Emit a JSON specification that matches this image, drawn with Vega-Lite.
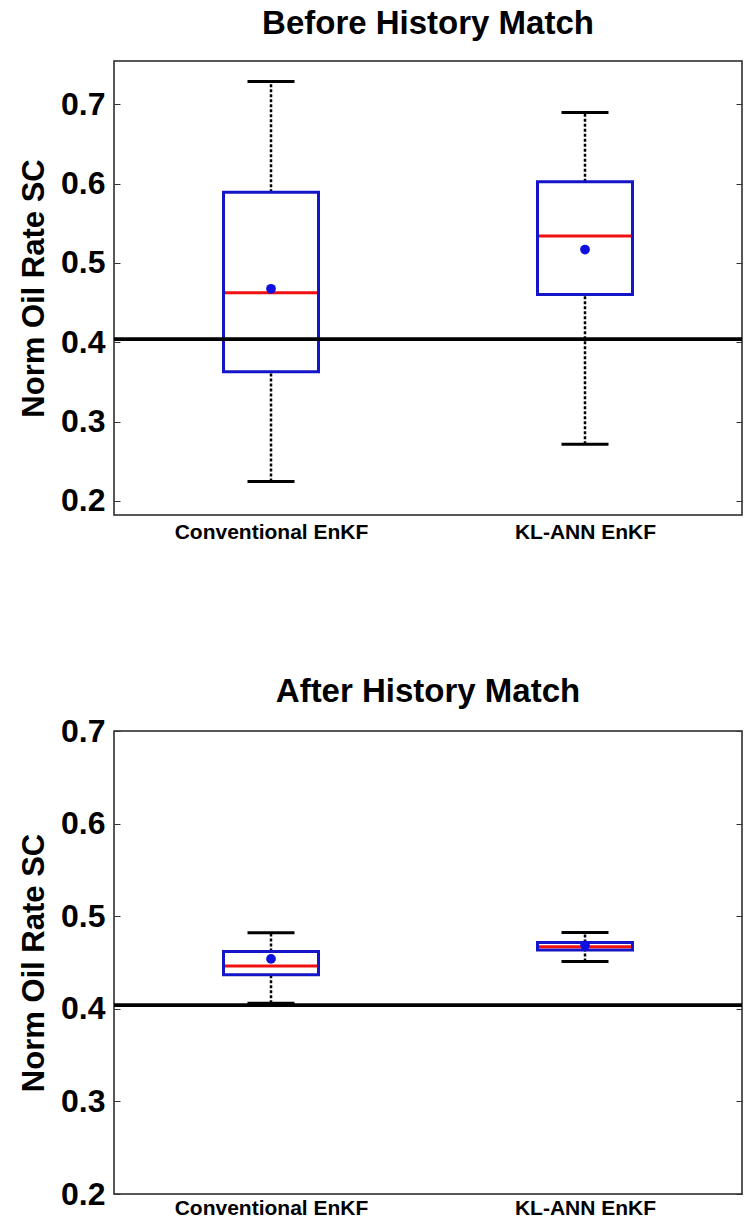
{
  "$schema": "https://vega.github.io/schema/vega-lite/v6.json",
  "background": "white",
  "padding": {"left": 17, "top": 7, "right": 4, "bottom": 0},
  "datasets": {
    "stats": [
      {"panel": "before", "group": "Conventional EnKF", "lo": 0.2244, "q1": 0.3627, "med": 0.4624, "mean": 0.4674, "q3": 0.589, "hi": 0.7285, "ref": 0.4037},
      {"panel": "before", "group": "KL-ANN EnKF", "lo": 0.2713, "q1": 0.4602, "med": 0.534, "mean": 0.5168, "q3": 0.6023, "hi": 0.6896, "ref": 0.4037},
      {"panel": "after", "group": "Conventional EnKF", "lo": 0.4061, "q1": 0.4367, "med": 0.4461, "mean": 0.4539, "q3": 0.4618, "hi": 0.482, "ref": 0.4037},
      {"panel": "after", "group": "KL-ANN EnKF", "lo": 0.451, "q1": 0.4635, "med": 0.467, "mean": 0.4685, "q3": 0.4715, "hi": 0.4825, "ref": 0.4037}
    ]
  },
  "spacing": 132,
  "vconcat": [
    {
      "title": {"text": "Before History Match", "offset": 20},
      "width": 628,
      "height": 454,
      "data": {"name": "stats"},
      "transform": [{"filter": "datum.panel === 'before'"}],
      "resolve": {"axis": {"y": "independent"}},
      "layer": [
        {
          "mark": {"type": "rule", "strokeDash": [3, 2], "strokeWidth": 2.5, "color": "black"},
          "encoding": {
            "x": {"field": "group", "type": "nominal", "sort": null, "scale": {"type": "point", "padding": 0.5}, "axis": {"title": null, "labelAngle": 0, "tickSize": 0, "domain": false, "labelPadding": 6, "labelFontSize": 21, "labelFontWeight": "bold", "labelLimit": 400}},
            "y": {"field": "lo", "type": "quantitative", "scale": {"domain": [0.1823, 0.7544], "nice": false, "zero": false},
              "axis": {"values": [0.2, 0.3, 0.4, 0.5, 0.6, 0.7], "format": ".1f", "title": "Norm Oil Rate SC", "domain": false, "grid": false, "tickSize": -6, "tickColor": "#333", "labelPadding": 15, "titlePadding": 10}},
            "y2": {"field": "q1"}
          }
        },
        {
          "mark": {"type": "rule", "strokeDash": [3, 2], "strokeWidth": 2.5, "color": "black"},
          "encoding": {
            "x": {"field": "group", "type": "nominal", "sort": null},
            "y": {"field": "q3", "type": "quantitative", "axis": null},
            "y2": {"field": "hi"}
          }
        },
        {
          "mark": {"type": "tick", "size": 47, "thickness": 3, "color": "black", "opacity": 1},
          "encoding": {
            "x": {"field": "group", "type": "nominal", "sort": null},
            "y": {"field": "lo", "type": "quantitative", "axis": null}
          }
        },
        {
          "mark": {"type": "tick", "size": 47, "thickness": 3, "color": "black", "opacity": 1},
          "encoding": {
            "x": {"field": "group", "type": "nominal", "sort": null},
            "y": {"field": "hi", "type": "quantitative", "axis": null}
          }
        },
        {
          "mark": {"type": "bar", "size": 95, "fill": "transparent", "stroke": "#1414c8", "strokeWidth": 3},
          "encoding": {
            "x": {"field": "group", "type": "nominal", "sort": null},
            "y": {"field": "q1", "type": "quantitative", "axis": null},
            "y2": {"field": "q3"}
          }
        },
        {
          "mark": {"type": "tick", "size": 92, "thickness": 3, "color": "#f01010", "opacity": 1},
          "encoding": {
            "x": {"field": "group", "type": "nominal", "sort": null},
            "y": {"field": "med", "type": "quantitative", "axis": null}
          }
        },
        {
          "mark": {"type": "point", "filled": true, "size": 95, "opacity": 1, "color": "#0f0fe0"},
          "encoding": {
            "x": {"field": "group", "type": "nominal", "sort": null},
            "y": {"field": "mean", "type": "quantitative", "axis": null}
          }
        },
        {
          "mark": {"type": "rule", "strokeWidth": 3.5, "color": "black"},
          "encoding": {
            "y": {"field": "ref", "type": "quantitative", "axis": {"orient": "right", "values": [0.2, 0.3, 0.4, 0.5, 0.6, 0.7], "labels": false, "title": null, "domain": false, "grid": false, "tickSize": -6, "tickColor": "#333"}}
          }
        }
      ]
    },
    {
      "title": {"text": "After History Match", "offset": 6},
      "width": 628,
      "height": 463,
      "data": {"name": "stats"},
      "transform": [{"filter": "datum.panel === 'after'"}],
      "resolve": {"axis": {"y": "independent"}},
      "layer": [
        {
          "mark": {"type": "rule", "strokeDash": [3, 2], "strokeWidth": 2.5, "color": "black"},
          "encoding": {
            "x": {"field": "group", "type": "nominal", "sort": null, "scale": {"type": "point", "padding": 0.5}, "axis": {"title": null, "labelAngle": 0, "tickSize": 0, "domain": false, "labelPadding": 3, "labelFontSize": 21, "labelFontWeight": "bold", "labelLimit": 400}},
            "y": {"field": "lo", "type": "quantitative", "scale": {"domain": [0.2, 0.7], "nice": false, "zero": false},
              "axis": {"values": [0.2, 0.3, 0.4, 0.5, 0.6, 0.7], "format": ".1f", "title": "Norm Oil Rate SC", "domain": false, "grid": false, "tickSize": -6, "tickColor": "#333", "labelPadding": 15, "titlePadding": 10}},
            "y2": {"field": "q1"}
          }
        },
        {
          "mark": {"type": "rule", "strokeDash": [3, 2], "strokeWidth": 2.5, "color": "black"},
          "encoding": {
            "x": {"field": "group", "type": "nominal", "sort": null},
            "y": {"field": "q3", "type": "quantitative", "axis": null},
            "y2": {"field": "hi"}
          }
        },
        {
          "mark": {"type": "tick", "size": 47, "thickness": 3, "color": "black", "opacity": 1},
          "encoding": {
            "x": {"field": "group", "type": "nominal", "sort": null},
            "y": {"field": "lo", "type": "quantitative", "axis": null}
          }
        },
        {
          "mark": {"type": "tick", "size": 47, "thickness": 3, "color": "black", "opacity": 1},
          "encoding": {
            "x": {"field": "group", "type": "nominal", "sort": null},
            "y": {"field": "hi", "type": "quantitative", "axis": null}
          }
        },
        {
          "mark": {"type": "bar", "size": 95, "fill": "transparent", "stroke": "#1414c8", "strokeWidth": 3},
          "encoding": {
            "x": {"field": "group", "type": "nominal", "sort": null},
            "y": {"field": "q1", "type": "quantitative", "axis": null},
            "y2": {"field": "q3"}
          }
        },
        {
          "mark": {"type": "tick", "size": 92, "thickness": 3, "color": "#f01010", "opacity": 1},
          "encoding": {
            "x": {"field": "group", "type": "nominal", "sort": null},
            "y": {"field": "med", "type": "quantitative", "axis": null}
          }
        },
        {
          "mark": {"type": "point", "filled": true, "size": 95, "opacity": 1, "color": "#0f0fe0"},
          "encoding": {
            "x": {"field": "group", "type": "nominal", "sort": null},
            "y": {"field": "mean", "type": "quantitative", "axis": null}
          }
        },
        {
          "mark": {"type": "rule", "strokeWidth": 3.5, "color": "black"},
          "encoding": {
            "y": {"field": "ref", "type": "quantitative", "axis": {"orient": "right", "values": [0.2, 0.3, 0.4, 0.5, 0.6, 0.7], "labels": false, "title": null, "domain": false, "grid": false, "tickSize": -6, "tickColor": "#333"}}
          }
        }
      ]
    }
  ],
  "config": {
    "font": "Liberation Sans",
    "view": {"stroke": "#222", "strokeWidth": 1.5},
    "title": {"fontSize": 33, "fontWeight": "bold", "color": "black", "anchor": "middle"},
    "axis": {"labelFontSize": 32, "labelFontWeight": "bold", "labelColor": "black", "titleFontSize": 31, "titleFontWeight": "bold", "titleColor": "black"}
  }
}
